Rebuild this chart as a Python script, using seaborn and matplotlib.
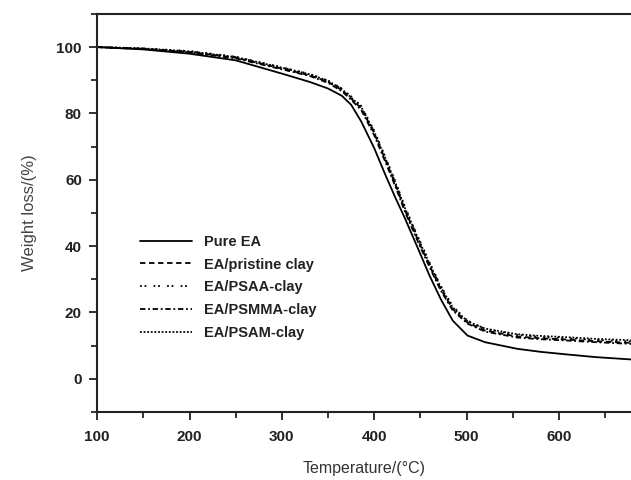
import pandas as pd
import matplotlib.pyplot as plt
import seaborn as sns
from matplotlib.ticker import MultipleLocator

# Courbes ATG
temp = [100, 150, 200, 250, 300, 330, 350, 365, 375, 386, 400, 412, 423, 433,
        447, 460, 472, 485, 501, 520, 555, 580, 609, 640, 678]

pure_ea = [100, 99.3, 98, 96, 92, 89.5, 87.5, 85.3, 82.6, 77.5, 69.5, 61.5, 54.5,
           48.5, 39.5, 31, 24, 17.5, 13.0, 11.0, 9.0, 8.1, 7.3, 6.5, 5.8]
ea_pristine = [100, 99.5, 98.5, 96.8, 93.5, 91.5, 89.5, 87, 84.5, 81.5, 74, 66,
               58.5, 51, 42, 34, 27, 21, 16.9, 14.5, 12.7, 12.2, 11.8, 11.3, 10.8]
ea_psaa = [100, 99.6, 98.8, 97.1, 93.9, 91.9, 89.9, 87.5, 85.1, 82.2, 74.8,
           66.9, 59.4, 52, 43, 35, 28, 21.8, 17.5, 15.0, 13.2, 12.6, 12.2, 11.7, 11.2]
ea_psmma = [100, 99.4, 98.4, 96.6, 93.3, 91.3, 89.2, 86.7, 84.1, 81.0, 73.4,
            65.4, 57.9, 50.5, 41.5, 33.6, 26.6, 20.6, 16.6, 14.2, 12.4, 11.9, 11.5, 11.0, 10.5]
ea_psam = [100, 99.6, 98.7, 97.0, 93.8, 91.8, 89.8, 87.3, 84.8, 81.9, 74.4,
           66.5, 59.0, 51.6, 42.6, 34.6, 27.6, 21.5, 17.3, 15.1, 13.4, 12.9, 12.5, 12.0, 11.6]

labels = ['Pure EA', 'EA/pristine clay', 'EA/PSAA-clay', 'EA/PSMMA-clay', 'EA/PSAM-clay']
series = [pure_ea, ea_pristine, ea_psaa, ea_psmma, ea_psam]
styles = ['-', (0, (3, 2)), (0, (1, 1.5, 1, 4)), (0, (3, 1.5, 1, 1.5)), (0, (1, 1))]

sns.set_style('ticks')
plt.rcParams['font.family'] = ['Liberation Sans', 'DejaVu Sans']

fig = plt.figure(figsize=(6.31, 4.8), dpi=100)
ax = fig.add_axes([0.154, 0.142, 0.846, 0.829])

for lab, vals, ls in zip(labels, series, styles):
    df = pd.DataFrame({'T': temp, 'W': vals})
    sns.lineplot(data=df, x='T', y='W', ax=ax, color='black', linewidth=1.3,
                 linestyle=ls, label=lab)

ax.set_xlim(100, 678)
ax.set_ylim(-10, 110)
ax.xaxis.set_major_locator(MultipleLocator(100))
ax.xaxis.set_minor_locator(MultipleLocator(50))
ax.yaxis.set_major_locator(MultipleLocator(20))
ax.yaxis.set_minor_locator(MultipleLocator(10))
ax.set_yticks([0, 20, 40, 60, 80, 100])
ax.tick_params(which='major', direction='out', length=6, width=1.3, labelsize=11,
               colors='#222222')
ax.tick_params(axis='x', which='major', pad=7)
ax.tick_params(axis='y', which='major', pad=5)
ax.tick_params(which='minor', direction='out', length=4, width=1.3)
for t in ax.get_xticklabels() + ax.get_yticklabels():
    t.set_fontweight('bold')

for s in ['left', 'bottom', 'top']:
    ax.spines[s].set_linewidth(1.5)
    ax.spines[s].set_color('#222222')
ax.spines['right'].set_visible(False)

ax.set_xlabel('Temperature/(°C)', fontsize=11.5, color='#333333', labelpad=12)
ax.set_ylabel('Weight loss/(%)', fontsize=12, color='#444444', labelpad=14)

leg = ax.legend(loc='upper left', bbox_to_anchor=(0.055, 0.478), frameon=False,
                handlelength=3.6, labelspacing=0.6, fontsize=10.5, handletextpad=0.8)
for t in leg.get_texts():
    t.set_fontweight('bold')
    t.set_color('#222222')

plt.savefig('out.png', dpi=100)
